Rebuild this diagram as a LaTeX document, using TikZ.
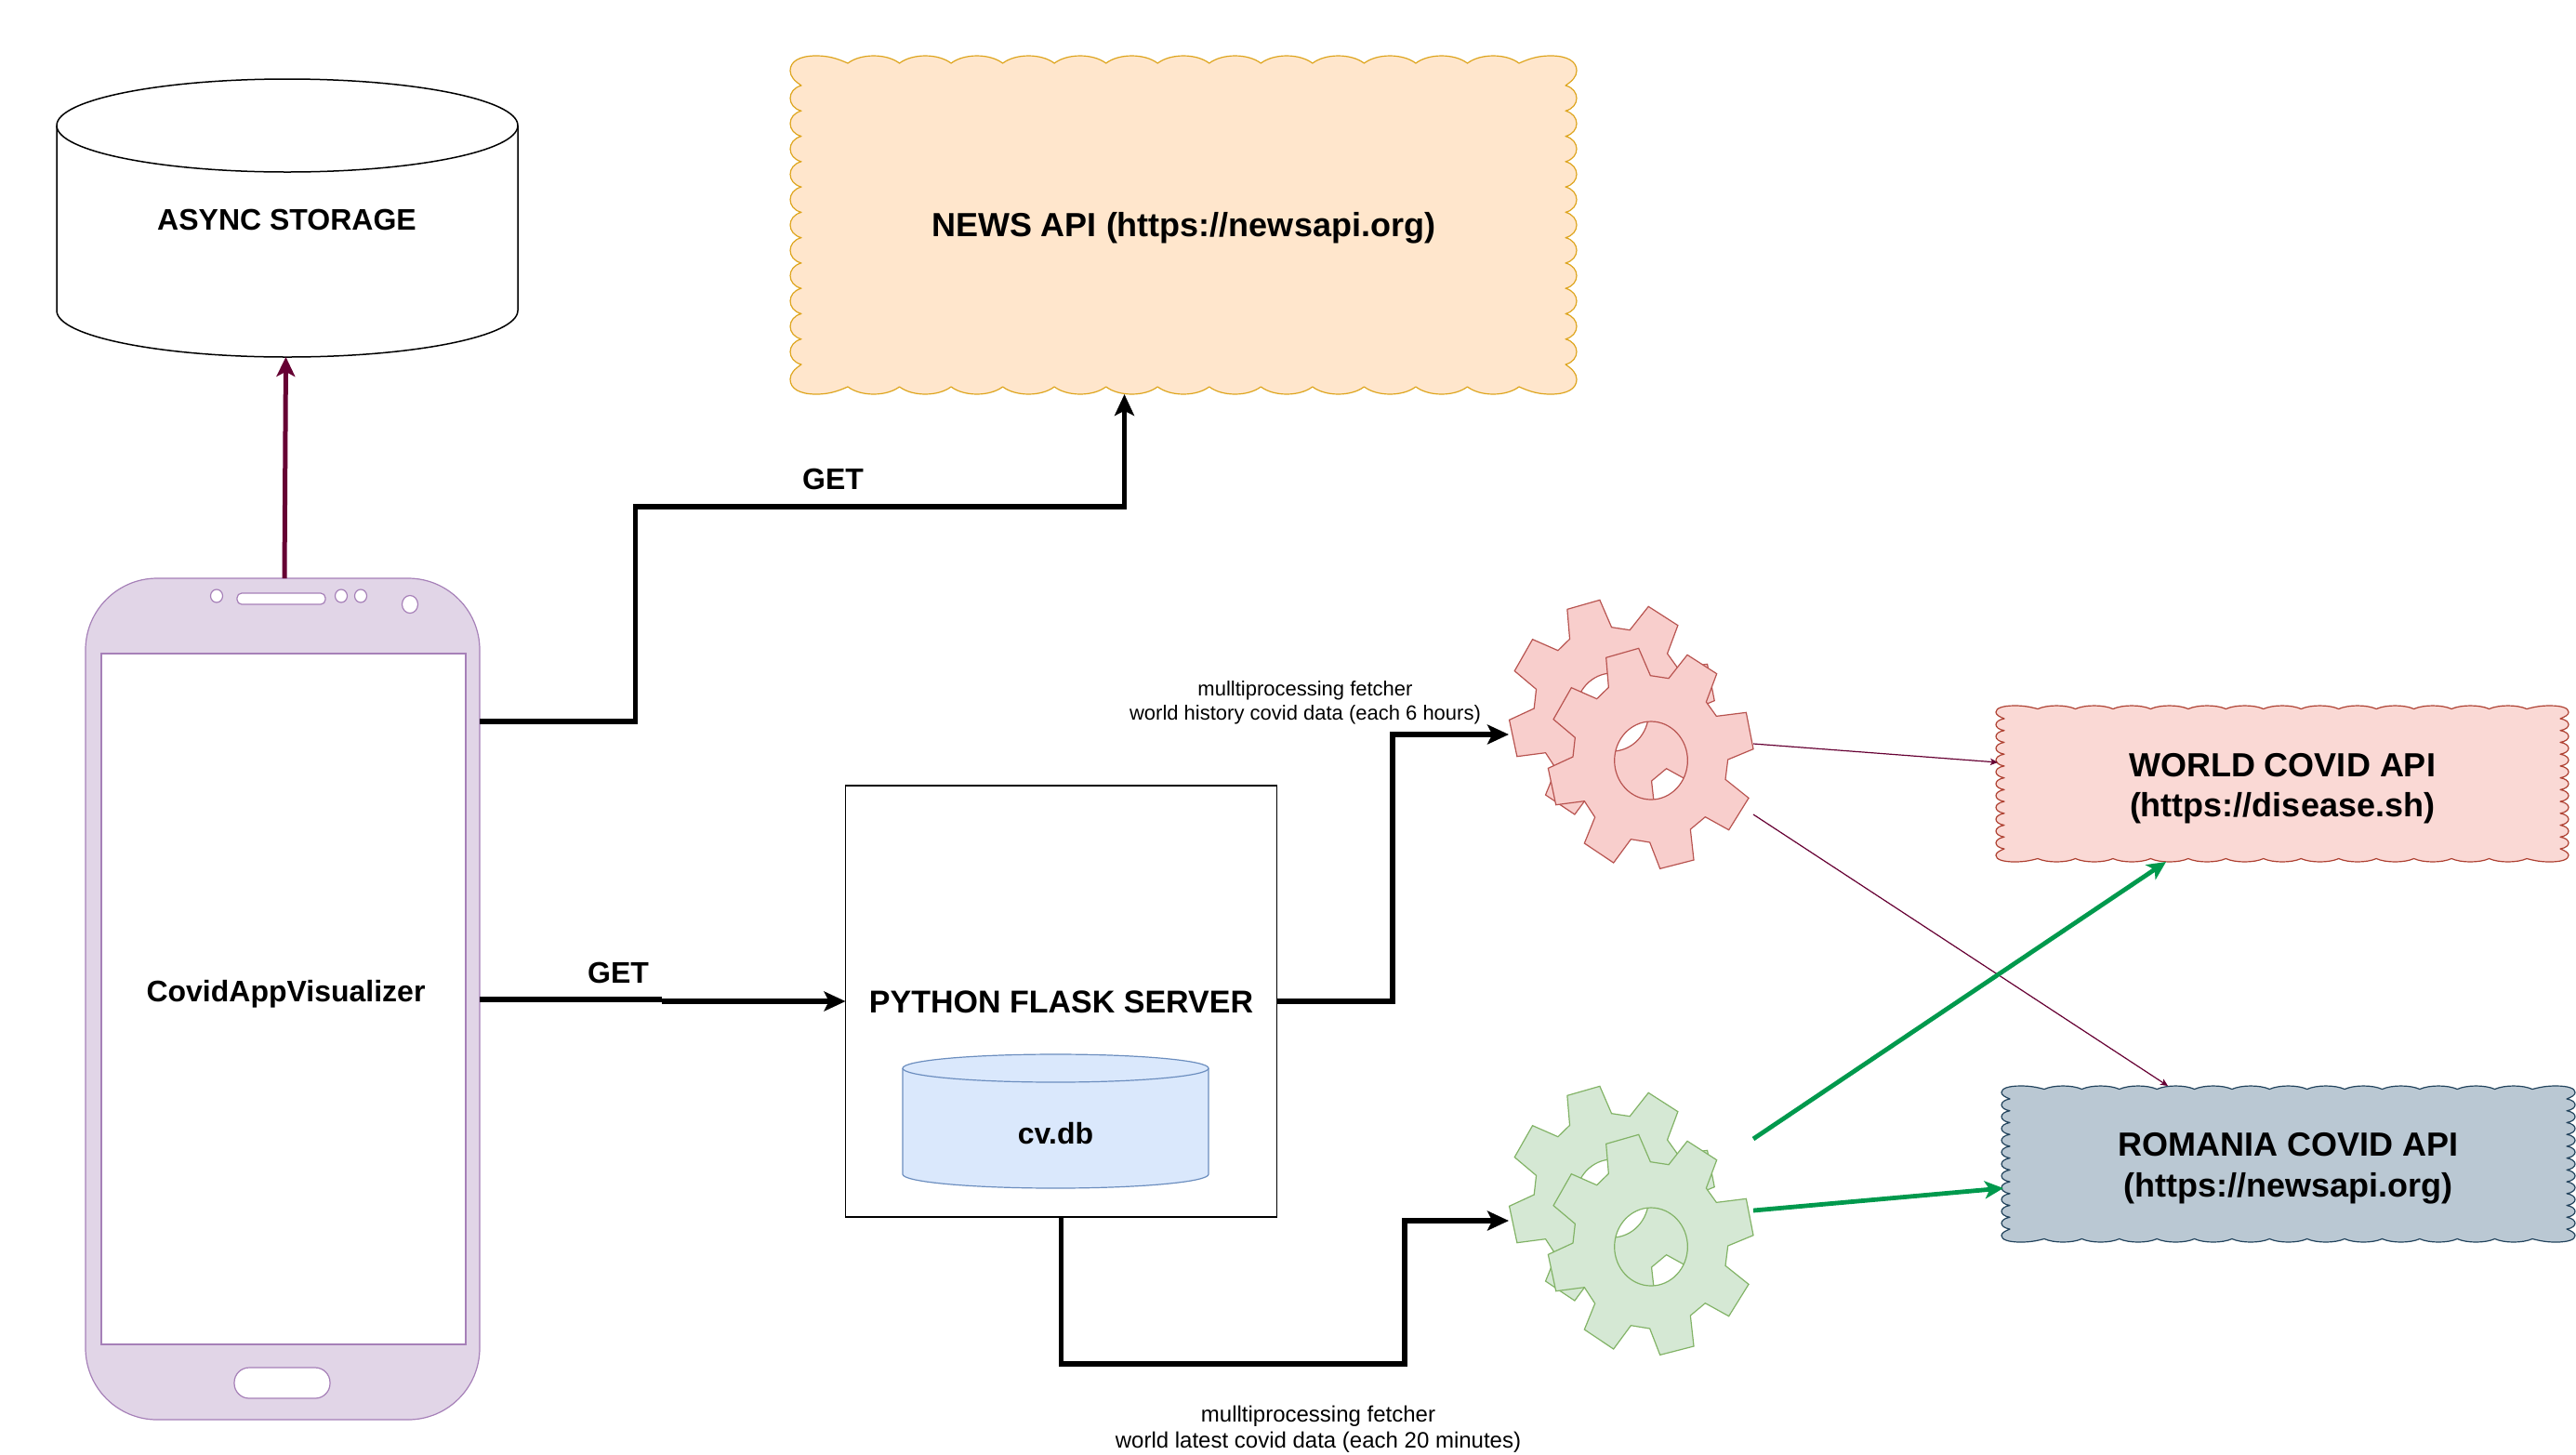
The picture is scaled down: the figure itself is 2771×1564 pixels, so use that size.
\documentclass[tikz,border=0pt]{standalone}
\usepackage{fontspec}
\setmainfont{Liberation Sans}
\usetikzlibrary{arrows.meta}
\definecolor{maroon}{HTML}{660033}
\definecolor{gogreen}{HTML}{00994D}
\definecolor{phonefill}{HTML}{E1D5E7}
\definecolor{phonestroke}{HTML}{A680B8}
\tikzset{
  anchorbox/.style={rectangle,inner sep=0pt,outer sep=0pt,align=center},
  conn/.style={line width=2.7pt,draw=black,-{Stealth[length=11.5pt,width=10.5pt,inset=2.6pt]}},
  maroonbig/.style={line width=2.5pt,draw=maroon,-{Stealth[length=10.5pt,width=10pt,inset=2.6pt]}},
  maroonsmall/.style={line width=0.6pt,draw=maroon,-{Stealth[length=4pt,width=3.6pt,inset=1pt]}},
  greenline/.style={line width=2.4pt,draw=gogreen,-{Stealth[length=10pt,width=9.5pt,inset=2.6pt]}},
  big/.style={font=\fontsize{18}{21.8}\selectfont\bfseries},
  mid/.style={font=\fontsize{16}{19}\selectfont\bfseries},
  py/.style={font=\fontsize{17}{20}\selectfont\bfseries},
  smalltxt/.style={font=\fontsize{11}{13}\selectfont},
  lowtxt/.style={font=\fontsize{12}{14}\selectfont},
  phonepart/.style={line width=0.6pt,fill=#1,draw=phonestroke},
  phonepart/.default=white
}
% cloud: x0 y0 x1 y1 side-depth top-depth corner-x corner-y, options
\newcommand{\cloudshape}[9]{%
  \pgfmathsetmacro\cw{(#3-#1-2*#7)/13}%
  \pgfmathsetmacro\ch{(#4-#2-2*#8)/11}%
  \draw[#9,line join=round] ({#1+#7},{#2+#6})
  \foreach \i in {0,...,12}{
    .. controls ({#1+#7+(\i+.25)*\cw},{#2-.33*#6}) and ({#1+#7+(\i+.75)*\cw},{#2-.33*#6}) .. ({#1+#7+(\i+1)*\cw},{#2+#6})
  }
  .. controls ({#3-.8*#7},{#2+.3*#6}) and ({#3-.65*#7},{#2}) .. ({#3-.45*#7},{#2})
  .. controls ({#3-.15*#7},{#2}) and ({#3},{#2+.2*#8}) .. ({#3},{#2+.5*#8})
  .. controls ({#3},{#2+.7*#8}) and ({#3-.4*#5},{#2+.85*#8}) .. ({#3-#5},{#2+#8})
  \foreach \j in {0,...,10}{
    .. controls ({#3+.33*#5},{#2+#8+(\j+.15)*\ch}) and ({#3+.33*#5},{#2+#8+(\j+.85)*\ch}) .. ({#3-#5},{#2+#8+(\j+1)*\ch})
  }
  .. controls ({#3-.4*#5},{#4-.85*#8}) and ({#3},{#4-.7*#8}) .. ({#3},{#4-.5*#8})
  .. controls ({#3},{#4-.2*#8}) and ({#3-.15*#7},{#4}) .. ({#3-.45*#7},{#4})
  .. controls ({#3-.65*#7},{#4}) and ({#3-.8*#7},{#4-.3*#6}) .. ({#3-#7},{#4-#6})
  \foreach \i in {0,...,12}{
    .. controls ({#3-#7-(\i+.25)*\cw},{#4+.33*#6}) and ({#3-#7-(\i+.75)*\cw},{#4+.33*#6}) .. ({#3-#7-(\i+1)*\cw},{#4-#6})
  }
  .. controls ({#1+.8*#7},{#4-.3*#6}) and ({#1+.65*#7},{#4}) .. ({#1+.45*#7},{#4})
  .. controls ({#1+.15*#7},{#4}) and ({#1},{#4-.2*#8}) .. ({#1},{#4-.5*#8})
  .. controls ({#1},{#4-.7*#8}) and ({#1+.4*#5},{#4-.85*#8}) .. ({#1+#5},{#4-#8})
  \foreach \j in {0,...,10}{
    .. controls ({#1-.33*#5},{#4-#8-(\j+.15)*\ch}) and ({#1-.33*#5},{#4-#8-(\j+.85)*\ch}) .. ({#1+#5},{#4-#8-(\j+1)*\ch})
  }
  .. controls ({#1+.4*#5},{#2+.85*#8}) and ({#1},{#2+.7*#8}) .. ({#1},{#2+.5*#8})
  .. controls ({#1},{#2+.2*#8}) and ({#1+.15*#7},{#2}) .. ({#1+.45*#7},{#2})
  .. controls ({#1+.65*#7},{#2}) and ({#1+.8*#7},{#2+.3*#6}) .. cycle;
}
% cylinder: x0 top x1 bottom ry, options
\newcommand{\cylshape}[6]{%
  \pgfmathsetmacro\cxm{(#1+#3)/2}\pgfmathsetmacro\crx{(#3-#1)/2}%
  \draw[#6] (#1,{#2+#5}) arc[start angle=180,end angle=0,x radius=\crx,y radius=-#5] -- (#3,{#4-#5}) arc[start angle=0,end angle=-180,x radius=\crx,y radius=-#5] -- cycle;
  \draw[#6,fill=none] (#1,{#2+#5}) arc[start angle=180,end angle=360,x radius=\crx,y radius=-#5];
}
% gear pair with zoom-crop origin
\newcommand{\gearone}[4]{%
  \begin{scope}[shift={(#1,#2)},x=0.16667pt,y=-0.16667pt]
    \draw[even odd rule,line width=0.6pt,line join=miter,fill=#3,draw=#4]
      (443,262)--(548,232)--(586,320)--(645,329)--(705,253)--(800,314)--(766,405)--(799,451)--(895,439)--(918,557)--(836,591)--(828,655)--(903,715)--(839,818)--(763,776)--(715,816)--(726,915)--(617,943)--(584,858)--(523,848)--(467,924)--(373,861)--(407,777)--(373,725)--(281,737)--(256,619)--(336,582)--(343,520)--(273,461)--(331,359)--(413,395)--(451,358)--cycle
      (588,594) ellipse[x radius=118,y radius=126];
  \end{scope}}
\newcommand{\gearpair}[4]{%
  \gearone{{#1-41.8}}{{#2-52}}{#3}{#4}%
  \gearone{#1}{#2}{#3}{#4}}
\begin{document}
\begin{tikzpicture}[x=0.5pt,y=-0.5pt]
\useasboundingbox (0,0) rectangle (2771,1564);

% shapes
\cylshape{61}{85}{557}{384}{50}{fill=white,draw=black,line width=0.75pt}
\cloudshape{850}{60}{1696}{424}{12}{8}{62}{32}{fill={rgb,255:red,255;green,230;blue,204},draw={rgb,255:red,222;green,165;blue,30},line width=0.6pt}
\cloudshape{2147}{759}{2763}{927}{9}{3.5}{45}{14}{fill={rgb,255:red,250;green,217;blue,213},draw={rgb,255:red,174;green,65;blue,50},line width=0.6pt}
\cloudshape{2153}{1168}{2770}{1336}{9}{3.5}{46}{14}{fill={rgb,255:red,186;green,200;blue,211},draw={rgb,255:red,35;green,68;blue,93},line width=0.6pt}

% phone
\draw[phonepart=phonefill,rounded corners=38.5pt] (92,622) rectangle (516,1527);
\draw[phonepart] (109,703) rectangle (501,1446);
\draw[phonepart,rounded corners=8pt] (252,1471) rectangle (355,1504);
\draw[phonepart,rounded corners=2.5pt] (255,638) rectangle (350,650);
\draw[phonepart] (233,641) ellipse[x radius=6.5,y radius=7];
\draw[phonepart] (367,641) ellipse[x radius=6.5,y radius=7];
\draw[phonepart] (388,641) ellipse[x radius=6.5,y radius=7];
\draw[phonepart] (441,650) ellipse[x radius=8.5,y radius=9.5];

% server
\draw[fill=white,draw=black,line width=0.7pt] (909.5,845) rectangle (1373.5,1309);
\cylshape{971}{1134}{1300}{1278}{15}{fill={rgb,255:red,218;green,232;blue,252},draw={rgb,255:red,108;green,142;blue,191},line width=0.6pt}

% gears
\gearpair{1580}{620}{{rgb,255:red,248;green,206;blue,204}}{{rgb,255:red,184;green,84;blue,80}}
\gearpair{1580}{1143}{{rgb,255:red,213;green,232;blue,212}}{{rgb,255:red,130;green,179;blue,102}}

% named nodes
\node[anchorbox,minimum width=212pt,minimum height=452.5pt] (phone) at (304,1074.5) {};
\node[anchorbox,mid] (phonelabel) at (307.5,1069) {CovidAppVisualizer};
\node[anchorbox,minimum width=248.5pt,minimum height=149.5pt,mid] (async) at (308.5,236) {ASYNC STORAGE};
\node[anchorbox,minimum width=423pt,minimum height=182pt,big] (news) at (1273,245) {NEWS API (https://newsapi.org)};
\node[anchorbox,minimum width=232pt,minimum height=232pt,py] (flask) at (1141.5,1078) {PYTHON FLASK SERVER};
\node[anchorbox,mid] (cvdb) at (1135.5,1219) {cv.db};
\node[anchorbox,minimum width=308pt,minimum height=84pt,big] (world) at (2455,848) {WORLD COVID API\\(https://disease.sh)};
\node[anchorbox,minimum width=308.5pt,minimum height=84pt,big] (romania) at (2461.5,1257) {ROMANIA COVID API\\(https://newsapi.org)};
\node[anchorbox,minimum width=131.5pt,minimum height=144.5pt] (pinkgear) at (1754.5,789.5) {};
\node[anchorbox,minimum width=131.5pt,minimum height=144.5pt] (greengear) at (1754.5,1312.5) {};
\node[anchorbox,mid] (get1) at (896,515) {GET};
\node[anchorbox,mid] (get2) at (665,1046.5) {GET};
\node[anchorbox,smalltxt] (hist) at (1404,755.5) {mulltiprocessing fetcher\\world history covid data (each 6 hours)};
\node[anchorbox,lowtxt] (late) at (1418,1537) {mulltiprocessing fetcher\\world latest covid data (each 20 minutes)};

% connector ends
\coordinate (phoneNews) at (516,776);
\coordinate (phoneTop) at (306,622);
\coordinate (asyncIn) at (307.5,384);
\coordinate (newsIn) at (1209.5,424);
\coordinate (flaskOut) at (1373.5,1077);
\coordinate (flaskDown) at (1141.5,1309);
\coordinate (pinkIn) at (1623,790);
\coordinate (greenIn) at (1623,1313);
\coordinate (pinkA) at (1886,800);
\coordinate (pinkB) at (1886,876);
\coordinate (greenA) at (1886,1225);
\coordinate (greenB) at (1886,1302);
\coordinate (worldL) at (2149,820);
\coordinate (worldB) at (2330,927);
\coordinate (romT) at (2332,1168);
\coordinate (romL) at (2155,1278);
\coordinate (phoneOut) at (516,1075);
\coordinate (jog) at (712,1075);
\coordinate (jog2) at (712,1077);
\coordinate (flaskIn) at (909.5,1077);

% connectors
\draw[maroonbig] (phoneTop) -- (asyncIn);
\draw[conn] (phoneNews) -- (683.5,776) -- (683.5,545) -- (1209.5,545) -- (newsIn);
\draw[line width=2.7pt] (phoneOut) -- (jog);
\draw[conn] (jog2) -- (flaskIn);
\draw[conn] (flaskOut) -- (1498,1077) -- (1498,790) -- (pinkIn);
\draw[conn] (flaskDown) -- (1141.5,1467) -- (1511,1467) -- (1511,1313) -- (greenIn);
\draw[maroonsmall] (pinkA) -- (worldL);
\draw[maroonsmall] (pinkB) -- (romT);
\draw[greenline] (greenA) -- (worldB);
\draw[greenline] (greenB) -- (romL);
\end{tikzpicture}
\end{document}
